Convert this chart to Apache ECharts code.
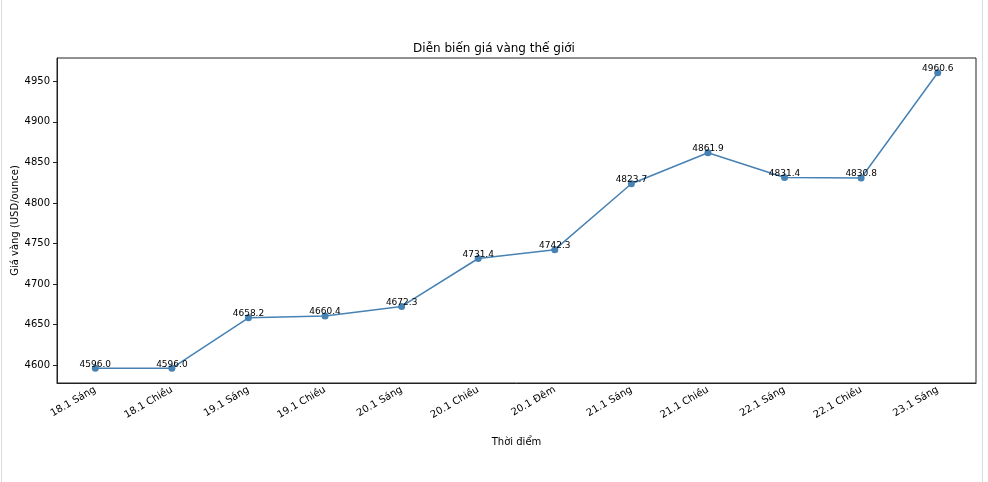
<!DOCTYPE html>
<html>
<head>
<meta charset="utf-8">
<script src="https://cdn.jsdelivr.net/npm/echarts@6/dist/echarts.min.js"></script>
<style>
  html, body { margin: 0; padding: 0; background: #fff; }
  #chart { width: 988px; height: 482px; position: absolute; left: 0; top: 0; }
  .edge { position: absolute; top: 0; width: 1px; height: 482px; background: #dcdcdc; }
</style>
</head>
<body>
<div id="chart"></div>
<div class="edge" style="left:1px"></div>
<div class="edge" style="left:982px"></div>
<script>
const categories = ['18.1 Sáng', '18.1 Chiều', '19.1 Sáng', '19.1 Chiều', '20.1 Sáng', '20.1 Chiều', '20.1 Đêm', '21.1 Sáng', '21.1 Chiều', '22.1 Sáng', '22.1 Chiều', '23.1 Sáng'];
const prices = [4596.0, 4596.0, 4658.2, 4660.4, 4672.3, 4731.4, 4742.3, 4823.7, 4861.9, 4831.4, 4830.8, 4960.6];
const yTicks = [4600, 4650, 4700, 4750, 4800, 4850, 4900, 4950];

const lo = Math.min(...prices), hi = Math.max(...prices);
const pad = (hi - lo) * 0.05;
const font = 'DejaVu Sans';

const chart = echarts.init(document.getElementById('chart'), null, { renderer: 'canvas' });
chart.setOption({
  animation: false,
  backgroundColor: '#fff',
  title: {
    text: 'Diễn biến giá vàng thế giới',
    left: 'center', top: 38,
    textStyle: { fontFamily: font, fontSize: 12, fontWeight: 'normal', color: '#000' }
  },
  grid: { left: 57, right: 12, top: 58, bottom: 99, containLabel: false, outerBoundsMode: 'none', show: true, borderColor: '#222', borderWidth: 1, backgroundColor: 'transparent' },
  xAxis: {
    type: 'category',
    data: categories,
    boundaryGap: true,
    name: 'Thời điểm',
    nameLocation: 'middle',
    nameGap: 54,
    nameMoveOverlap: false,
    nameTextStyle: { fontFamily: font, fontSize: 10, color: '#000' },
    axisLine: { lineStyle: { color: '#222', width: 1 } },
    axisTick: { alignWithLabel: true, length: 4, lineStyle: { color: '#222' } },
    axisLabel: { rotate: 30, interval: 0, margin: 6, fontFamily: font, fontSize: 10, color: '#000' },
    splitLine: { show: false }
  },
  yAxis: {
    type: 'value',
    min: lo - pad, max: hi + pad,
    name: 'Giá vàng (USD/ounce)',
    nameLocation: 'middle',
    nameGap: 37,
    nameMoveOverlap: false,
    nameTextStyle: { fontFamily: font, fontSize: 10, color: '#000' },
    axisLine: { show: true, lineStyle: { color: '#222', width: 1 } },
    axisTick: { show: true, length: 4, customValues: yTicks, lineStyle: { color: '#222' } },
    axisLabel: { customValues: yTicks, formatter: v => String(v), margin: 7, fontFamily: font, fontSize: 10, color: '#000' },
    splitLine: { show: false }
  },
  series: [{
    type: 'line',
    data: prices,
    color: '#4682b4',
    lineStyle: { width: 1.5, color: '#4682b4' },
    symbol: 'circle',
    symbolSize: 7,
    itemStyle: { color: '#4682b4' },
    label: {
      show: true,
      position: 'top',
      distance: -4,
      formatter: p => p.value.toFixed(1),
      fontFamily: font, fontSize: 9, color: '#000'
    }
  }]
});
</script>
</body>
</html>
